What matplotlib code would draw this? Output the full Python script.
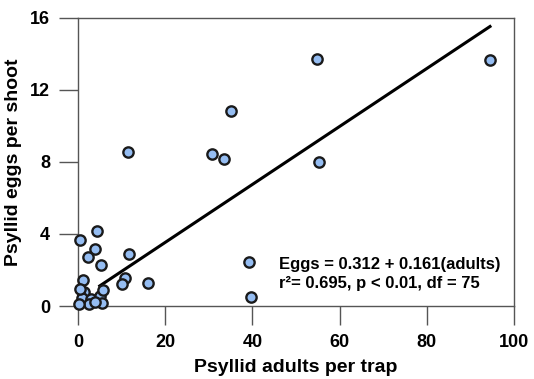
import matplotlib.pyplot as plt
import numpy as np

plt.rcParams['font.family'] = ['Liberation Sans', 'DejaVu Sans']
plt.rcParams['font.weight'] = 'bold'

# adults per trap vs eggs per shoot
adults = [54.9, 94.6, 35.1, 11.4, 30.8, 33.5, 55.3, 4.4, 0.45, 3.9, 2.3, 5.2,
          11.8, 39.3, 1.1, 10.7, 10.1, 16.1, 39.8, 1.3, 1.0, 3.0, 5.0, 5.5,
          5.75, 0.5, 2.5, 4.0, 0.3]
eggs = [13.73, 13.69, 10.82, 8.55, 8.42, 8.14, 7.99, 4.15, 3.65, 3.16, 2.73,
        2.29, 2.9, 2.44, 1.46, 1.57, 1.22, 1.26, 0.5, 0.79, 0.43, 0.39, 0.54,
        0.17, 0.89, 0.95, 0.12, 0.25, 0.1]

intercept = 0.312
slope = 0.161
fit_x = [5.0, 94.5]

fig = plt.figure(figsize=(5.34, 3.79), dpi=100)
ax = fig.add_axes([0.146, 0.1926, 0.8165, 0.76])

fx = np.array(fit_x)
ax.plot(fx, intercept + slope * fx, color='black', lw=2.2, zorder=2)
ax.scatter(adults, eggs, s=55, facecolor='#95bdf2', edgecolor='#1a1a1a',
           linewidth=1.7, zorder=3, clip_on=False)

ax.text(46.2, 2.31, "Eggs = 0.312 + 0.161(adults)", fontsize=12,
        fontweight='bold', va='center')
ax.text(46.2, 1.26, "r\u00b2= 0.695, p < 0.01, df = 75", fontsize=12,
        fontweight='bold', va='center')

ax.set_xlim(0, 100)
ax.set_ylim(0, 16)
ax.set_xticks([0, 20, 40, 60, 80, 100])
ax.set_yticks([0, 4, 8, 12, 16])
ax.tick_params(direction='out', length=14, width=1, labelsize=13, pad=6,
               color='#555555')
for s in ax.spines.values():
    s.set_linewidth(1)
    s.set_color('#555555')
ax.set_xlabel("Psyllid adults per trap", fontsize=14, fontweight='bold',
              labelpad=6)
ax.set_ylabel("Psyllid eggs per shoot", fontsize=14, fontweight='bold',
              labelpad=6)

fig.savefig("out.png", dpi=100)
